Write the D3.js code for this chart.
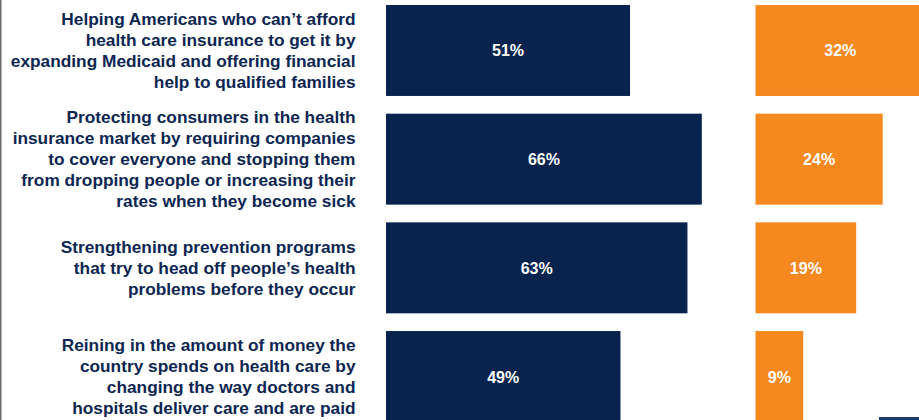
<!DOCTYPE html>
<html>
<head>
<meta charset="utf-8">
<script src="https://cdn.jsdelivr.net/npm/d3@7"></script>
<style>
  html, body { margin: 0; padding: 0; background: #fff; }
  svg { display: block; }
</style>
</head>
<body>
<svg id="chart" width="919" height="420"></svg>
<script>
const categories = [
  "Helping Americans who can\u2019t afford\nhealth care insurance to get it by\nexpanding Medicaid and offering financial\nhelp to qualified families",
  "Protecting consumers in the health\ninsurance market by requiring companies\nto cover everyone and stopping them\nfrom dropping people or increasing their\nrates when they become sick",
  "Strengthening prevention programs\nthat try to head off people\u2019s health\nproblems before they occur",
  "Reining in the amount of money the\ncountry spends on health care by\nchanging the way doctors and\nhospitals deliver care and are paid"
];
const navyValues = [51, 66, 63, 49];
const orangeValues = [32, 24, 19, 9];

const NAVY = "#08244e";
const ORANGE = "#f5891f";
const TEXT = "#0c2652";

const svg = d3.select("#chart");

const y = d3.scaleBand()
  .domain(d3.range(categories.length))
  .range([5, 422])
  .paddingInner(0.163)
  .paddingOuter(0);

const xNavy = d3.scaleLinear().domain([0, 100]).range([386, 386 + 478.5]);
const xOrange = d3.scaleLinear().domain([0, 100]).range([755.5, 755.5 + 530]);

// left border line
svg.append("rect").attr("x", 0).attr("y", 0).attr("width", 1.5).attr("height", 420).attr("fill", "#6b6b6b");

// category labels
const lineH = 21;
categories.forEach((c, i) => {
  const lines = c.split("\n");
  const cy = y(i) + y.bandwidth() / 2;
  const t = svg.append("text")
    .attr("text-anchor", "end")
    .attr("font-family", "Liberation Sans, Arial, sans-serif")
    .attr("font-weight", "bold")
    .attr("font-size", "17.3px")
    .attr("fill", TEXT);
  lines.forEach((l, j) => {
    t.append("tspan")
      .attr("x", 355.5)
      .attr("y", cy + (j - (lines.length - 1) / 2) * lineH + 6)
      .text(l);
  });
});

// navy bars
svg.selectAll("rect.navy").data(navyValues).join("rect")
  .attr("class", "navy")
  .attr("x", xNavy(0))
  .attr("y", (d, i) => y(i))
  .attr("width", d => xNavy(d) - xNavy(0))
  .attr("height", y.bandwidth())
  .attr("fill", NAVY);

svg.selectAll("text.navyLbl").data(navyValues).join("text")
  .attr("class", "navyLbl")
  .attr("x", d => (xNavy(0) + xNavy(d)) / 2)
  .attr("y", (d, i) => y(i) + y.bandwidth() / 2 + 6)
  .attr("text-anchor", "middle")
  .attr("font-family", "Liberation Sans, Arial, sans-serif")
  .attr("font-weight", "bold")
  .attr("font-size", "16px")
  .attr("fill", "#ffffff")
  .text(d => d + "%");

// orange bars
svg.selectAll("rect.orange").data(orangeValues).join("rect")
  .attr("class", "orange")
  .attr("x", xOrange(0))
  .attr("y", (d, i) => y(i))
  .attr("width", d => xOrange(d) - xOrange(0))
  .attr("height", y.bandwidth())
  .attr("fill", ORANGE);

svg.selectAll("text.orangeLbl").data(orangeValues).join("text")
  .attr("class", "orangeLbl")
  .attr("x", d => (xOrange(0) + xOrange(d)) / 2)
  .attr("y", (d, i) => y(i) + y.bandwidth() / 2 + 6)
  .attr("text-anchor", "middle")
  .attr("font-family", "Liberation Sans, Arial, sans-serif")
  .attr("font-weight", "bold")
  .attr("font-size", "16px")
  .attr("fill", "#ffffff")
  .text(d => d + "%");

// small decorative footer mark at bottom right
svg.append("rect").attr("x", 879).attr("y", 417).attr("width", 40).attr("height", 3).attr("fill", "#1b3a6b");
</script>
</body>
</html>
